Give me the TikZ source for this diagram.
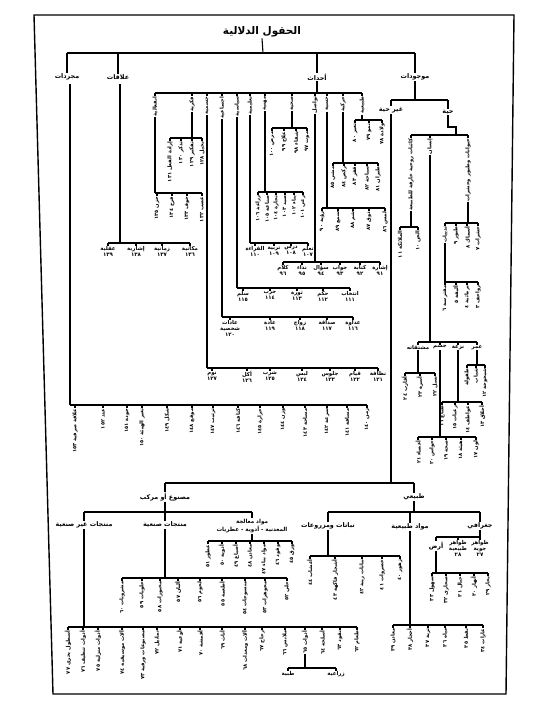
\documentclass[tikz,border=0pt]{standalone}
\usepackage{fontspec}
\newfontfamily\ar[Script=Arabic]{DejaVu Sans}
\TeXXeTstate=1
\newcount\lfc
\newcommand\LF[3]{\global\advance\lfc by 1\relax
  \node[leaf] (n\the\lfc) at (#1,#2+3) {#3};
  \draw[ln] (#1,#2) -- (n\the\lfc.east);}
\newcommand\LFp[4]{\LF{#1}{#2}{#3}\draw[ln] (n\the\lfc.west) -- (#1,#4);}
\newcommand\HL[3]{\global\advance\lfc by 1\relax
  \node[hlab] (n\the\lfc) at (#1,#2+3) {#3};
  \draw[ln] (#1,#2) -- (n\the\lfc.north);}
\newcommand\HLp[4]{\HL{#1}{#2}{#3}\draw[ln] (n\the\lfc.south) -- (#1,#4);}
\begin{document}
\begin{tikzpicture}[x=1pt,y=-1pt,
  ln/.style={line width=1.1pt},
  leaf/.style={rotate=90,anchor=east,inner sep=0.4pt,font=\ar\bfseries\fontsize{5.2}{5.6}\selectfont},
  hlab/.style={anchor=north,inner sep=0.4pt,align=center,font=\ar\bfseries\fontsize{5.4}{6}\selectfont},
  lab/.style={inner sep=0.8pt,align=center,font=\ar\bfseries\fontsize{6.4}{7.4}\selectfont},
  ttl/.style={inner sep=1pt,font=\ar\bfseries\fontsize{10.5}{11.5}\selectfont}]
\useasboundingbox (0,0) rectangle (556,723);
\fill[white] (0,0) rectangle (556,723);
\draw[line width=1.4pt] (34,15) -- (514,15) -- (506,694) -- (53,694) -- cycle;
% root
\node[ttl] (root) at (262,32) {\beginR الحقول الدلالية\endR};
\draw[ln] (root.south) -- (263,53);
\draw[ln] (67,53) -- (415,53);
\node[lab] (mujr) at (67,77) {\beginR مجردات\endR};
\node[lab] (alaq) at (118,77) {\beginR علاقات\endR};
\node[lab] (ahd) at (317,77) {\beginR أحداث\endR};
\node[lab] (mawj) at (415,77) {\beginR موجودات\endR};
\foreach \n in {mujr,alaq,ahd,mawj} {\draw[ln] (\n.north |- 0,53) -- (\n.north);}
% ---------------- mujarradat
\draw[ln] (70,84) -- (70,405);
\draw[ln] (70,405) -- (367,405);
\LF{75}{405}{\beginR علاقة صرفية ١٥٣\endR}
\LF{103}{405}{\beginR عدد ١٥٢\endR}
\LF{127}{405}{\beginR جودة ١٥١\endR}
\LF{142}{405}{\beginR تغير الهيئة ١٥٠\endR}
\LF{167}{405}{\beginR شكل ١٤٩\endR}
\LF{192}{405}{\beginR موقع ١٤٨\endR}
\LF{213}{405}{\beginR ترتيب ١٤٧\endR}
\LF{238}{405}{\beginR كثافة ١٤٦\endR}
\LF{260}{405}{\beginR حرارة ١٤٥\endR}
\LF{283}{405}{\beginR وزن ١٤٤\endR}
\LF{305}{405}{\beginR مساحة ١٤٣\endR}
\LF{327}{405}{\beginR سرعة ١٤٢\endR}
\LF{347}{405}{\beginR مسافة ١٤١\endR}
\LF{367}{405}{\beginR زمن ١٤٠\endR}
% ---------------- alaqat
\draw[ln] (120,84) -- (120,243);
\draw[ln] (108,243) -- (190,243);
\HL{108}{243}{\beginR عقلية\endR\\\beginR ١٣٩\endR}
\HL{136}{243}{\beginR إشارية\endR\\\beginR ١٣٨\endR}
\HL{162}{243}{\beginR زمانية\endR\\\beginR ١٣٧\endR}
\HL{190}{243}{\beginR مكانية\endR\\\beginR ١٣٦\endR}
% ---------------- ahdath
\draw[ln] (ahd.south) -- (317,93);
\draw[ln] (155,93) -- (362,93);
\LFp{155}{93}{\beginR انفعالية\endR}{193}
\draw[ln] (155,193) -- (202,193);
\LF{157}{193}{\beginR حزن ١٣٥\endR}\LF{172}{193}{\beginR فرح ١٣٤\endR}\LF{187}{193}{\beginR خوف ١٣٣\endR}\LF{202}{193}{\beginR غضب ١٣٢\endR}
\LFp{192}{93}{\beginR فكرية\endR}{138}
\draw[ln] (170,138) -- (202,138);
\LF{170}{138}{\beginR إرادة الفعل ١٣١\endR}\LF{181}{138}{\beginR تذكر ١٣٠\endR}\LF{192}{138}{\beginR تفكير ١٢٩\endR}\LF{202}{138}{\beginR تخيل ١٢٨\endR}
\LFp{207}{93}{\beginR جسمية\endR}{368}
\draw[ln] (207,368) -- (378,368);
\HL{212}{368}{\beginR نوم\endR\\\beginR ١٢٧\endR}
\HL{247}{368}{\beginR أكل\endR\\\beginR ١٢٦\endR}
\HL{270}{368}{\beginR شرب\endR\\\beginR ١٢٥\endR}
\HL{302}{368}{\beginR لبس\endR\\\beginR ١٢٤\endR}
\HL{330}{368}{\beginR جلوس\endR\\\beginR ١٢٣\endR}
\HL{355}{368}{\beginR قيام\endR\\\beginR ١٢٢\endR}
\HL{378}{368}{\beginR نظافة\endR\\\beginR ١٢١\endR}
\LFp{222}{93}{\beginR اجتماعية\endR}{317}
\draw[ln] (222,317) -- (353,317);
\HL{230}{317}{\beginR عادات\endR\\\beginR شخصية\endR\\\beginR ١٢٠\endR}
\HL{270}{317}{\beginR عادة\endR\\\beginR ١١٩\endR}
\HL{300}{317}{\beginR زواج\endR\\\beginR ١١٨\endR}
\HL{327}{317}{\beginR صداقة\endR\\\beginR ١١٧\endR}
\HL{353}{317}{\beginR عداوة\endR\\\beginR ١١٦\endR}
\LFp{237}{93}{\beginR سياسية\endR}{288}
\draw[ln] (237,288) -- (350,288);
\HL{243}{288}{\beginR سلم\endR\\\beginR ١١٥\endR}
\HL{270}{288}{\beginR حرب\endR\\\beginR ١١٤\endR}
\HL{297}{288}{\beginR ثورة\endR\\\beginR ١١٣\endR}
\HL{323}{288}{\beginR حكم\endR\\\beginR ١١٢\endR}
\HL{350}{288}{\beginR انتخاب\endR\\\beginR ١١١\endR}
\LFp{250}{93}{\beginR تعليمية\endR}{243}
\draw[ln] (250,243) -- (308,243);
\HL{255}{243}{\beginR القراءة\endR\\\beginR ١١٠\endR}
\HL{274}{243}{\beginR تربية\endR\\\beginR ١٠٩\endR}
\HL{291}{243}{\beginR درس\endR\\\beginR ١٠٨\endR}
\HL{308}{243}{\beginR تعلم\endR\\\beginR ١٠٧\endR}
\LFp{265}{93}{\beginR مهنية\endR}{192}
\draw[ln] (258,192) -- (303,192);
\LF{258}{192}{\beginR زراعة ١٠٦\endR}\LF{267}{192}{\beginR صناعة ١٠٥\endR}\LF{276}{192}{\beginR تجارة ١٠٤\endR}\LF{285}{192}{\beginR صيد ١٠٣\endR}\LF{294}{192}{\beginR بناء ١٠٢\endR}\LF{303}{192}{\beginR رعي ١٠١\endR}
\LFp{292}{93}{\beginR صحية\endR}{128}
\draw[ln] (272,128) -- (307,128);
\LF{272}{128}{\beginR مرض ١٠٠\endR}\LF{284}{128}{\beginR علاج ٩٩\endR}\LF{296}{128}{\beginR شفاء ٩٨\endR}\LF{307}{128}{\beginR موت ٩٧\endR}
\LFp{315}{93}{\beginR تواصل\endR}{262}
\draw[ln] (283,262) -- (380,262);
\HL{283}{262}{\beginR كلام\endR\\\beginR ٩٦\endR}
\HL{302}{262}{\beginR نداء\endR\\\beginR ٩٥\endR}
\HL{321}{262}{\beginR سؤال\endR\\\beginR ٩٤\endR}
\HL{340}{262}{\beginR جواب\endR\\\beginR ٩٣\endR}
\HL{360}{262}{\beginR كتابة\endR\\\beginR ٩٢\endR}
\HL{380}{262}{\beginR إشارة\endR\\\beginR ٩١\endR}
\LFp{327}{93}{\beginR حسية\endR}{208}
\draw[ln] (322,208) -- (385,208);
\LF{322}{208}{\beginR رؤية ٩٠\endR}\LF{338}{208}{\beginR سمع ٨٩\endR}\LF{353}{208}{\beginR شم ٨٨\endR}\LF{369}{208}{\beginR ذوق ٨٧\endR}\LF{385}{208}{\beginR لمس ٨٦\endR}
\LFp{343}{93}{\beginR حركية\endR}{163}
\draw[ln] (333,163) -- (378,163);
\LF{333}{163}{\beginR مشي ٨٥\endR}\LF{344}{163}{\beginR ركض ٨٤\endR}\LF{355}{163}{\beginR قفز ٨٣\endR}\LF{367}{163}{\beginR سباحة ٨٢\endR}\LF{378}{163}{\beginR طيران ٨١\endR}
\LFp{362}{93}{\beginR طبيعية\endR}{120}
\draw[ln] (355,120) -- (382,120);
\LF{355}{120}{\beginR تغير ٨٠\endR}\LF{369}{120}{\beginR نمو ٧٩\endR}\LF{382}{120}{\beginR ولادة ٧٨\endR}
% ---------------- mawjudat
\draw[ln] (mawj.south) -- (415,100);
\draw[ln] (391,100) -- (448,100);
\node[lab] (ghayr) at (391,110) {\beginR غير حية\endR};
\node[lab] (hayy) at (448,112) {\beginR حية\endR};
\draw[ln] (ghayr.north |- 0,100) -- (ghayr.north);
\draw[ln] (hayy.north |- 0,100) -- (hayy.north);
\draw[ln] (hayy.south) -- (448,127) -- (456,127) -- (456,135);
\draw[ln] (411,135) -- (468,135);
\LFp{411}{135}{\beginR كائنات روحية خارقة للطبيعة\endR}{227}
\draw[ln] (400,227) -- (418,227);
\LF{400}{227}{\beginR الملائكة ١١\endR}\LF{418}{227}{\beginR الجن ١٠\endR}
\LFp{430}{135}{\beginR إنسان\endR}{342}
\LFp{468}{135}{\beginR حيوانات وطيور وحشرات\endR}{223}
\draw[ln] (445,223) -- (478,223);
\LFp{445}{223}{\beginR ثدييات\endR}{282}
\LF{456}{223}{\beginR طيور ٩\endR}\LF{467}{223}{\beginR أسماك ٨\endR}\LF{478}{223}{\beginR حشرات ٧\endR}
\draw[ln] (445,282) -- (478,282);
\LF{445}{282}{\beginR مفترسة ٦\endR}\LF{456}{282}{\beginR أليفة ٥\endR}\LF{467}{282}{\beginR برمائية ٤\endR}\LF{478}{282}{\beginR زواحف ٣\endR}
\draw[ln] (418,342) -- (477,342);
\HLp{418}{342}{\beginR مشتقاته\endR}{373}
\HLp{440}{342}{\beginR جسم\endR}{437}
\HLp{458}{342}{\beginR نزعة\endR}{402}
\HLp{477}{342}{\beginR عمر\endR}{365}
\draw[ln] (405,373) -- (435,373);
\LF{405}{373}{\beginR أقارب ٢٤\endR}\LF{420}{373}{\beginR أسرة ٢٣\endR}\LF{435}{373}{\beginR نسل ٢٢\endR}
\draw[ln] (418,437) -- (476,437);
\LF{418}{437}{\beginR أعضاء ٢١\endR}\LF{432}{437}{\beginR حواس ٢٠\endR}\LF{446}{437}{\beginR صحة ١٩\endR}\LF{461}{437}{\beginR هيئة ١٨\endR}\LF{476}{437}{\beginR لون ١٧\endR}
\draw[ln] (442,402) -- (482,402);
\LF{442}{402}{\beginR طباع ١٦\endR}\LF{455}{402}{\beginR رغبات ١٥\endR}\LF{468}{402}{\beginR عواطف ١٤\endR}\LF{482}{402}{\beginR أخلاق ١٣\endR}
\draw[ln] (467,365) -- (485,365);
\LF{467}{365}{\beginR طفولة\endR}\LF{476}{365}{\beginR شباب\endR}\LF{485}{365}{\beginR شيخوخة ١٢\endR}
% ---------------- ghayr hayya
\draw[ln] (ghayr.south) -- (391,483);
\draw[ln] (165,483) -- (414,483);
\node[lab] (masnu) at (165,497) {\beginR مصنوع أو مركب\endR};
\node[lab] (tabii) at (414,497) {\beginR طبيعي\endR};
\draw[ln] (masnu.north |- 0,483) -- (masnu.north);
\draw[ln] (tabii.north |- 0,483) -- (tabii.north);
% masnu
\draw[ln] (masnu.south) -- (165,512);
\draw[ln] (84,512) -- (252,512);
\node[lab] (gsn) at (84,525) {\beginR منتجات غير صنعية\endR};
\node[lab] (sn) at (165,525) {\beginR منتجات صنعية\endR};
\node[lab,font=\ar\bfseries\fontsize{5.6}{6.6}\selectfont] (mua) at (252,526) {\beginR مواد معالجة\endR\\\beginR المعدنية - أدوية - عطريات\endR};
\foreach \n in {gsn,sn,mua} {\draw[ln] (\n.north |- 0,512) -- (\n.north);}
\draw[ln] (mua.south) -- (252,541);
\draw[ln] (208,541) -- (292,541);
\LF{208}{541}{\beginR عطور ٥١\endR}\LF{222}{541}{\beginR أدوية ٥٠\endR}\LF{236}{541}{\beginR أصباغ ٤٩\endR}\LF{250}{541}{\beginR معادن ٤٨\endR}\LF{264}{541}{\beginR مواد بناء ٤٧\endR}\LF{278}{541}{\beginR وقود ٤٦\endR}\LF{292}{541}{\beginR ورق ٤٥\endR}
\draw[ln] (sn.south) -- (165,578);
\draw[ln] (122,578) -- (287,578);
\LF{122}{578}{\beginR مشروبات ٦٠\endR}\LF{142}{578}{\beginR حلويات ٥٩\endR}\LF{160}{578}{\beginR مخبوزات ٥٨\endR}\LF{178}{578}{\beginR ألبان ٥٧\endR}\LF{200}{578}{\beginR لحوم ٥٦\endR}\LF{222}{578}{\beginR أطعمة ٥٥\endR}\LF{245}{578}{\beginR منسوجات ٥٤\endR}\LF{265}{578}{\beginR مجوهرات ٥٣\endR}\LF{287}{578}{\beginR حلي ٥٢\endR}
\draw[ln] (gsn.south) -- (84,627);
\draw[ln] (68,627) -- (357,627);
\LF{68}{627}{\beginR أسطول بحري ٧٧\endR}\LF{83}{627}{\beginR أدوات تنظيف ٧٦\endR}\LF{98}{627}{\beginR أدوات منزلية ٧٥\endR}\LF{122}{627}{\beginR آلات موسيقية ٧٤\endR}\LF{143}{627}{\beginR مصنوعات ورقية ٧٣\endR}\LF{157}{627}{\beginR تماثيل ٧٢\endR}\LF{180}{627}{\beginR أوعية ٧١\endR}\LF{200}{627}{\beginR أقمشة ٧٠\endR}\LF{222}{627}{\beginR أثاث ٦٩\endR}\LF{245}{627}{\beginR آلات ومعدات ٦٨\endR}\LF{262}{627}{\beginR زجاج ٦٧\endR}\LF{285}{627}{\beginR ملابس ٦٦\endR}
\LFp{305}{627}{\beginR أدوات ٦٥\endR}{668}
\LF{322}{627}{\beginR أسلحة ٦٤\endR}\LF{340}{627}{\beginR نقود ٦٣\endR}\LF{357}{627}{\beginR طعام ٦٢\endR}
\draw[ln] (288,668) -- (336,668);
\HL{288}{668}{\beginR طبية\endR}
\HL{336}{668}{\beginR زراعية\endR}
% tabii
\draw[ln] (tabii.south) -- (414,512);
\draw[ln] (328,512) -- (480,512);
\node[lab] (nab) at (328,526) {\beginR نباتات ومزروعات\endR};
\node[lab] (mat) at (410,527) {\beginR مواد طبيعية\endR};
\node[lab] (jug) at (480,526) {\beginR جغرافي\endR};
\foreach \n in {nab,mat,jug} {\draw[ln] (\n.north |- 0,512) -- (\n.north);}
\draw[ln] (nab.south) -- (328,556);
\draw[ln] (310,556) -- (400,556);
\LF{310}{556}{\beginR أعشاب ٤٤\endR}\LF{335}{556}{\beginR أشجار فاكهة ٤٣\endR}\LF{362}{556}{\beginR نباتات زينة ٤٢\endR}\LF{382}{556}{\beginR خضروات ٤١\endR}\LF{400}{556}{\beginR زهور ٤٠\endR}
\draw[ln] (mat.south) -- (410,625);
\draw[ln] (393,625) -- (483,625);
\LF{393}{625}{\beginR معادن ٣٩\endR}\LF{410}{625}{\beginR أحجار ٣٨\endR}\LF{428}{625}{\beginR تربة ٣٧\endR}\LF{445}{625}{\beginR مياه ٣٦\endR}\LF{466}{625}{\beginR نفط ٣٥\endR}\LF{483}{625}{\beginR غازات ٣٤\endR}
\draw[ln] (jug.south) -- (480,537);
\draw[ln] (436,537) -- (480,537);
\node[lab] (ard) at (436,546) {\beginR أرض\endR};
\draw[ln] (436,537) -- (ard.north);
\HL{458}{537}{\beginR ظواهر\endR\\\beginR طبيعية\endR\\\beginR ٢٨\endR}
\HL{480}{537}{\beginR ظواهر\endR\\\beginR جوية\endR\\\beginR ٢٧\endR}
\draw[ln] (ard.south) -- (436,573);
\draw[ln] (432,573) -- (488,573);
\LF{432}{573}{\beginR سهول ٣٣\endR}\LF{446}{573}{\beginR صحارى ٣٢\endR}\LF{460}{573}{\beginR جبال ٣١\endR}\LF{474}{573}{\beginR أنهار ٣٠\endR}\LF{488}{573}{\beginR بحار ٢٩\endR}
\end{tikzpicture}
\end{document}
